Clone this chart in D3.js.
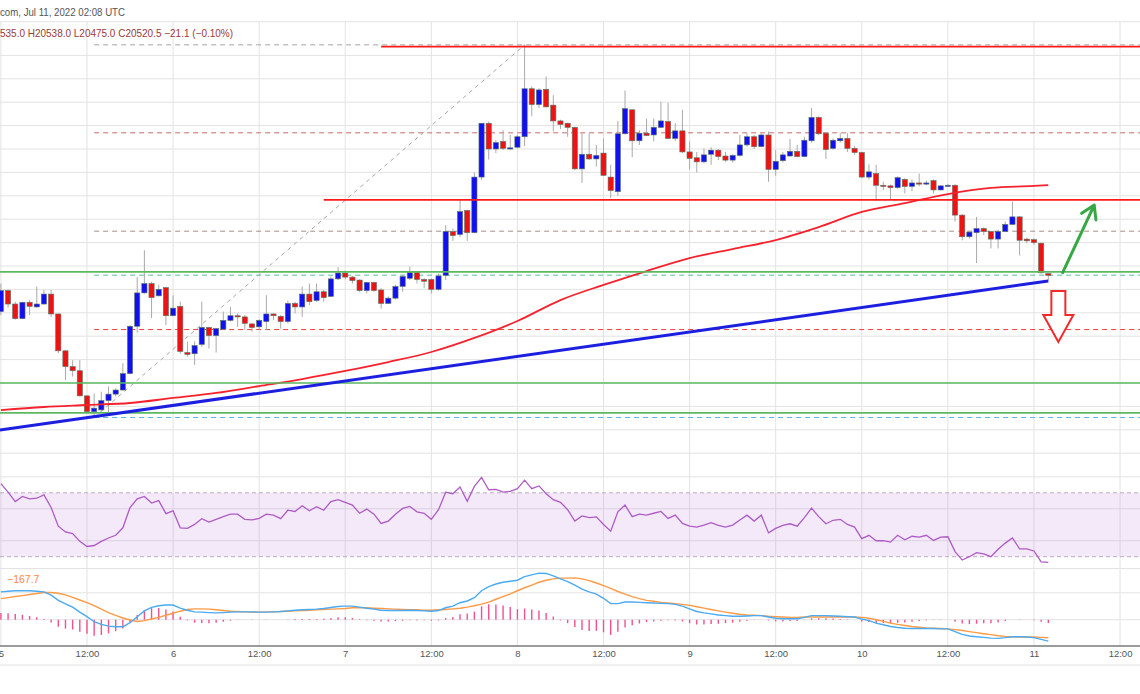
<!DOCTYPE html>
<html>
<head>
<meta charset="utf-8">
<script src="https://cdnjs.cloudflare.com/ajax/libs/d3/7.8.5/d3.min.js"></script>
<style>
html, body { margin: 0; padding: 0; background: #fff; overflow: hidden; }
svg { display: block; font-family: "Liberation Sans", Arial, sans-serif; }
</style>
</head>
<body>
<svg width="1140" height="694"></svg>
<script>
// BTC/USD hourly candles, Jul 5 00:00 UTC -> Jul 11 02:00 UTC
const opens = [20210,20390,20275,20150,20290,20250,20275,20360,20190,19875,
  19740,19705,19490,19355,19370,19450,19505,19540,19680,20085,
  20370,20450,20345,20415,20175,20255,19860,19850,19930,20075,
  20005,20060,20135,20175,20165,20105,20080,20125,20190,20170,
  20125,20280,20250,20360,20305,20380,20340,20490,20540,20505,
  20480,20390,20460,20395,20280,20325,20425,20495,20545,20485,
  20485,20400,20520,20895,20870,21075,20885,21360,21820,21600,
  21665,21605,21615,21705,22115,21980,22110,21975,21840,21820,
  21785,21430,21555,21515,21565,21360,21235,21730,21935,21670,
  21735,21720,21785,21835,21690,21755,21575,21525,21490,21555,
  21590,21540,21505,21545,21635,21705,21620,21720,21425,21500,
  21540,21580,21535,21670,21870,21735,21605,21670,21690,21605,
  21570,21360,21390,21290,21285,21270,21340,21280,21310,21300,
  21330,21250,21285,21290,21035,20850,20885,20920,20895,20830,
  20895,20955,21020,20830,20825,20795,20535];
const highs = [20450,20400,20295,20295,20310,20425,20395,20395,20195,19880,
  19795,19795,19495,19510,19525,19570,19555,19770,20095,20505,
  20735,20465,20440,20420,20350,20295,19955,19955,20295,20080,
  20070,20210,20250,20195,20180,20110,20145,20350,20195,20180,
  20305,20295,20425,20450,20450,20395,20510,20590,20560,20515,
  20485,20465,20465,20410,20340,20440,20525,20595,20555,20495,
  20495,20535,20950,20920,21165,21080,21400,21820,21835,21675,
  21760,21720,21720,22490,22135,22120,22220,22060,21850,21825,
  21790,21735,21735,21635,21690,21465,21840,22100,21940,21760,
  21860,21860,22005,21995,21820,21935,21665,21575,21605,21615,
  21600,21575,21555,21720,21735,21720,21735,21750,21590,21575,
  21685,21635,21705,21950,21880,21740,21690,21735,21735,21625,
  21575,21470,21465,21320,21295,21365,21350,21340,21390,21330,
  21340,21290,21300,21300,21045,20890,21020,20930,20900,20910,
  20980,21150,21025,20840,20835,20800,20538];
const lows = [20180,20245,20140,20145,20180,20245,20270,20165,19855,19625,
  19655,19485,19340,19312,19355,19350,19485,19535,19675,20030,
  20365,20155,20340,20095,20170,19850,19825,19755,19910,19895,
  19860,20055,20125,20080,20055,20040,20055,20055,20140,20065,
  20110,20195,20165,20265,20295,20295,20335,20480,20485,20450,
  20380,20365,20380,20235,20275,20315,20380,20480,20450,20410,
  20365,20390,20480,20815,20850,20815,20880,21335,21510,21565,
  21590,21595,21605,21625,21880,21950,21955,21750,21770,21705,
  21420,21310,21505,21450,21370,21180,21200,21725,21530,21635,
  21715,21665,21780,21690,21670,21565,21425,21400,21480,21465,
  21505,21490,21485,21535,21620,21600,21615,21320,21370,21485,
  21535,21530,21530,21655,21720,21515,21595,21655,21575,21550,
  21350,21340,21165,21250,21165,21260,21220,21240,21280,21290,
  21220,21245,21280,20980,20820,20835,20625,20865,20750,20750,
  20890,20950,20690,20795,20780,20535,20475];
const closes = [20390,20275,20150,20290,20255,20275,20360,20190,19875,19740,
  19705,19490,19355,19385,19450,19505,19540,19680,20085,20370,
  20450,20330,20400,20175,20240,19870,19845,19920,20075,20005,
  20065,20135,20175,20165,20110,20075,20135,20190,20175,20125,
  20280,20250,20360,20295,20380,20330,20490,20540,20505,20475,
  20390,20460,20390,20280,20325,20425,20510,20545,20485,20470,
  20400,20515,20895,20860,21065,20885,21360,21820,21600,21655,
  21605,21610,21705,22115,21980,22105,21960,21840,21810,21785,
  21430,21555,21515,21545,21375,21245,21730,21945,21670,21735,
  21715,21785,21840,21690,21755,21575,21520,21490,21550,21590,
  21535,21505,21545,21635,21705,21620,21720,21425,21495,21550,
  21580,21535,21675,21870,21730,21595,21675,21690,21605,21570,
  21360,21405,21290,21280,21270,21355,21280,21310,21300,21310,
  21250,21285,21290,21035,20850,20890,20920,20895,20830,20895,
  20955,21020,20820,20815,20800,20541.6,20520.5];

// 100 MA read every 6 hours
const maHours = [0,6,12,18,24,30,36,42,48,54,60,66,72,78,84,90,96,102,108,114,120,126,132,138,144,146];
const maValues = [19369,19395,19412,19429,19472,19515,19574,19634,19703,19779,19865,19985,20130,20309,
  20438,20557,20668,20745,20822,20933,21062,21138,21215,21267,21284,21292];

// RSI(14)
const rsi = [75.7,70.4,64.5,67.7,66.2,66.6,68.7,60.8,49.1,45.5,
  44.5,39.6,36.4,37.0,39.6,41.7,43.4,48.1,60.8,66.2,
  67.7,63.6,65.1,57.0,58.7,48.1,47.7,50.2,53.8,51.7,
  53.4,55.1,56.6,56.6,53.4,53.0,54.0,56.6,56.0,53.8,
  59.1,58.3,61.9,58.7,61.3,59.1,64.5,65.7,64.0,62.3,
  57.2,59.8,56.6,50.8,52.3,56.6,60.2,61.5,58.1,57.2,
  53.4,59.4,70.4,69.4,73.6,64.7,74.0,79.6,71.9,72.1,
  70.4,70.9,72.6,77.9,72.6,74.3,69.4,65.7,64.0,59.4,
  52.3,55.5,54.5,54.9,50.2,46.0,58.1,62.3,55.1,56.6,
  56.0,57.2,58.3,54.0,56.0,50.8,49.1,48.5,49.8,51.3,
  49.6,48.5,49.8,53.0,56.0,52.3,56.0,44.9,47.7,49.6,
  50.6,49.1,54.5,60.4,55.1,50.6,52.8,53.4,50.2,48.5,
  41.3,43.4,40.0,40.0,39.1,43.4,40.6,42.8,42.3,43.4,
  40.2,42.3,42.5,33.2,27.9,30.0,32.5,31.7,30.0,34.7,
  38.5,41.7,34.9,34.9,33.6,26.8,26.4];

// MACD(12,26,9)
const macd = [259,265,269,269,269,265,259,228,180,148,
  117,70,28,-19,-44,-60,-66,-66,-28,28,
  82,114,130,136,136,107,88,73,70,66,
  63,66,70,73,73,73,70,70,73,76,
  82,88,92,95,98,104,114,123,126,126,
  117,107,98,88,85,85,85,88,85,82,
  79,85,111,126,158,174,205,269,307,332,
  348,357,367,401,417,433,430,408,379,354,
  322,284,259,237,199,149,149,164,164,161,
  158,155,152,149,142,126,101,76,63,54,
  44,38,32,32,35,38,38,25,13,9,
  9,9,22,38,38,38,35,32,28,25,
  6,-9,-32,-47,-63,-73,-79,-82,-82,-82,
  -82,-85,-85,-111,-136,-152,-158,-164,-171,-174,
  -167,-158,-158,-161,-167,-183,-199];
const signal = [196,205,215,224,234,243,253,253,246,231,
  208,183,158,130,98,66,41,16,-3,-16,
  -9,6,22,41,60,79,95,101,101,98,
  92,85,79,76,73,70,70,73,73,76,
  79,82,85,88,92,95,98,101,104,111,
  111,111,107,104,101,98,95,92,92,88,
  88,92,95,101,107,117,130,145,164,190,
  215,240,269,297,322,348,367,379,386,386,
  389,379,363,341,316,291,262,237,215,196,
  180,171,161,155,149,142,133,120,107,95,
  82,70,60,51,44,41,38,32,28,25,
  22,22,25,25,25,25,25,25,25,25,
  22,13,0,-16,-32,-44,-54,-63,-70,-76,
  -79,-82,-85,-92,-101,-111,-120,-130,-139,-149,
  -155,-158,-161,-161,-161,-164,-167.7];

// drawings
const fibRatios = [0, 0.236, 0.5, 0.618, 0.764, 1];
const fibColors = ["#a3a3a3", "#c96a6a", "#a98c8c", "#4fc1a3", "#f23b3b", "#5ab4e5"];
const fibLow = 19305, fibHigh = 22490, fibFrom = 13, fibTo = 73;
const redLines = [{ price: 22475, from: 53 }, { price: 21165, from: 45 }];
const greenLines = [20550, 19600, 19345];
const trendLine = [[0, 19198], [146, 20472]];
const upArrow = [[148, 20543], [152.4, 21121]];
const downArrow = { hour: 147.4, top: 20386, neck: 20181, tip: 19950 };

const W = 1140;
const t0 = Date.UTC(2022, 6, 5, 0);
const HOUR = 3600e3;
const dt = i => new Date(t0 + i * HOUR);

const x = d3.scaleUtc().domain([dt(0), dt(156)]).range([0.9, 0.9 + 7.174 * 156]);
const xi = i => x(dt(i));
const y = d3.scaleLinear().domain([19000, 22600]).range([453.2, 32]);
const yRsi = d3.scaleLinear().domain([30, 70]).range([556.7, 492.8]);
const yMacd = d3.scaleLinear().domain([0, 250]).range([619.7, 592.8]);

const svg = d3.select("svg");
const grid = svg.append("g").attr("stroke", "#e3e3e3").attr("stroke-width", 1);

// vertical grid
x.ticks(d3.utcHour.every(12)).forEach(d => {
  grid.append("line").attr("x1", x(d)).attr("x2", x(d)).attr("y1", 21.7).attr("y2", 646);
});
// horizontal grid
d3.range(19000, 22401, 200).forEach(p => {
  grid.append("line").attr("x1", 0).attr("x2", W).attr("y1", y(p)).attr("y2", y(p));
});
[80, 60, 40].forEach(r => {
  grid.append("line").attr("x1", 0).attr("x2", W).attr("y1", yRsi(r)).attr("y2", yRsi(r));
});
[250, 0].forEach(v => {
  grid.append("line").attr("x1", 0).attr("x2", W).attr("y1", yMacd(v)).attr("y2", yMacd(v));
});
grid.append("line").attr("x1", 0).attr("x2", W).attr("y1", 21.7).attr("y2", 21.7);
grid.append("line").attr("x1", 0).attr("x2", W).attr("y1", 568.5).attr("y2", 568.5);

// fib retracement
const fib = svg.append("g");
fibRatios.forEach((r, k) => {
  const p = fibHigh - r * (fibHigh - fibLow);
  fib.append("line")
    .attr("x1", xi(fibFrom)).attr("x2", W)
    .attr("y1", y(p)).attr("y2", y(p))
    .attr("stroke", fibColors[k]).attr("stroke-width", 1)
    .attr("stroke-dasharray", "5,4");
});
fib.append("line")
  .attr("x1", xi(fibFrom)).attr("y1", y(fibLow))
  .attr("x2", xi(fibTo)).attr("y2", y(fibHigh))
  .attr("stroke", "#a8a8a8").attr("stroke-width", 1)
  .attr("stroke-dasharray", "4,4");

// candles
const candles = opens.map((o, i) => ({ i, o, h: highs[i], l: lows[i], c: closes[i] }));
const cg = svg.append("g");
cg.selectAll(".wick")
  .data(candles)
  .enter().append("line")
  .attr("x1", d => xi(d.i)).attr("x2", d => xi(d.i))
  .attr("y1", d => y(d.h)).attr("y2", d => y(d.l))
  .attr("stroke", "#a9a9a9").attr("stroke-width", 1);
cg.selectAll(".body")
  .data(candles)
  .enter().append("rect")
  .attr("x", d => xi(d.i) - 2.6)
  .attr("width", 5.2)
  .attr("y", d => y(Math.max(d.o, d.c)))
  .attr("height", d => Math.max(1.2, Math.abs(y(d.o) - y(d.c))))
  .attr("fill", d => d.c >= d.o ? "#1010f2" : "#f01212")
  .attr("stroke", "#5c7466").attr("stroke-width", 0.6);

// moving average
svg.append("path")
  .datum(maHours.map((h, k) => [h, maValues[k]]))
  .attr("fill", "none").attr("stroke", "#f5222d").attr("stroke-width", 1.8)
  .attr("d", d3.line().x(d => xi(d[0])).y(d => y(d[1])).curve(d3.curveMonotoneX));

// horizontal levels
greenLines.forEach(p => {
  svg.append("line").attr("x1", 0).attr("x2", W).attr("y1", y(p)).attr("y2", y(p))
    .attr("stroke", "#5cb860").attr("stroke-width", 1.6);
});
redLines.forEach(l => {
  svg.append("line").attr("x1", xi(l.from)).attr("x2", W).attr("y1", y(l.price)).attr("y2", y(l.price))
    .attr("stroke", "#ff1a1a").attr("stroke-width", 1.7);
});

// trend line
svg.append("line")
  .attr("x1", xi(trendLine[0][0]) - 1).attr("y1", y(trendLine[0][1]))
  .attr("x2", xi(trendLine[1][0])).attr("y2", y(trendLine[1][1]))
  .attr("stroke", "#1d1fe0").attr("stroke-width", 3);

// green up arrow
const ax1 = xi(upArrow[0][0]), ay1 = y(upArrow[0][1]);
const ax2 = xi(upArrow[1][0]), ay2 = y(upArrow[1][1]);
const ang = Math.atan2(ay2 - ay1, ax2 - ax1);
const headLen = 15;
svg.append("path")
  .attr("d", `M${ax1},${ay1}L${ax2},${ay2}` +
    `M${ax2 - headLen * Math.cos(ang - 0.55)},${ay2 - headLen * Math.sin(ang - 0.55)}L${ax2},${ay2}` +
    `L${ax2 - headLen * Math.cos(ang + 0.55)},${ay2 - headLen * Math.sin(ang + 0.55)}`)
  .attr("fill", "none").attr("stroke", "#36a843").attr("stroke-width", 3)
  .attr("stroke-linecap", "round").attr("stroke-linejoin", "round");

// red down arrow
const dx = xi(downArrow.hour), dTop = y(downArrow.top), dNeck = y(downArrow.neck), dTip = y(downArrow.tip);
svg.append("path")
  .attr("d", `M${dx - 7},${dTop}H${dx + 7}V${dNeck}H${dx + 15}L${dx},${dTip}L${dx - 15},${dNeck}H${dx - 7}Z`)
  .attr("fill", "#fff").attr("stroke", "#f22a2a").attr("stroke-width", 2)
  .attr("stroke-linejoin", "miter");

// RSI pane
svg.append("rect").attr("x", 0).attr("width", W)
  .attr("y", yRsi(70)).attr("height", yRsi(30) - yRsi(70))
  .attr("fill", "#b06cd8").attr("fill-opacity", 0.15);
[70, 30].forEach(r => {
  svg.append("line").attr("x1", 0).attr("x2", W).attr("y1", yRsi(r)).attr("y2", yRsi(r))
    .attr("stroke", "#b8aebf").attr("stroke-width", 1).attr("stroke-dasharray", "4,3");
});
svg.append("path")
  .datum(rsi)
  .attr("fill", "none").attr("stroke", "#ae5bc5").attr("stroke-width", 1.3)
  .attr("d", d3.line().x((d, i) => xi(i)).y(d => yRsi(d)));

// MACD pane
svg.append("g").selectAll("line")
  .data(macd.map((m, i) => ({ i, v: m - signal[i] })))
  .enter().append("line")
  .attr("x1", d => xi(d.i)).attr("x2", d => xi(d.i))
  .attr("y1", yMacd(0)).attr("y2", d => yMacd(d.v))
  .attr("stroke", "#f2508e").attr("stroke-width", 1.4);
svg.append("path")
  .datum(signal)
  .attr("fill", "none").attr("stroke", "#ff9a45").attr("stroke-width", 1.4)
  .attr("d", d3.line().x((d, i) => xi(i)).y(d => yMacd(d)));
svg.append("path")
  .datum(macd)
  .attr("fill", "none").attr("stroke", "#4aaaf2").attr("stroke-width", 1.4)
  .attr("d", d3.line().x((d, i) => xi(i)).y(d => yMacd(d)));
svg.append("text")
  .attr("x", 7).attr("y", 583)
  .attr("fill", "#ff8a3d").attr("font-size", 10.5)
  .text("\u2212" + Math.abs(signal[signal.length - 1]).toFixed(1));

// time axis
svg.append("line").attr("x1", 0).attr("x2", W).attr("y1", 646).attr("y2", 646)
  .attr("stroke", "#7a7a7a").attr("stroke-width", 1.5);
svg.append("line").attr("x1", 0).attr("x2", W).attr("y1", 665).attr("y2", 665)
  .attr("stroke", "#ececec").attr("stroke-width", 1.5);
const xAxis = d3.axisBottom(x)
  .ticks(d3.utcHour.every(12))
  .tickSize(0).tickPadding(4)
  .tickFormat(d => d.getUTCHours() ? "12:00" : String(d.getUTCDate()));
const axg = svg.append("g").attr("transform", "translate(0,646)").call(xAxis);
axg.select(".domain").remove();
axg.selectAll("text").attr("fill", "#555").attr("font-size", 9.5)
  .attr("font-family", "'Liberation Sans', Arial, sans-serif");

// header
const last = candles[candles.length - 1];
const prevClose = closes[closes.length - 2];
const change = last.c - prevClose;
svg.append("text").attr("x", 0).attr("y", 16)
  .attr("fill", "#555").attr("font-size", 11)
  .attr("textLength", 125).attr("lengthAdjust", "spacingAndGlyphs")
  .text("com, Jul 11, 2022 02:08 UTC");
svg.append("text").attr("x", 0).attr("y", 37)
  .attr("fill", "#9a3a3a").attr("font-size", 10.5)
  .attr("textLength", 233).attr("lengthAdjust", "spacingAndGlyphs")
  .text(`${String(last.o.toFixed(1)).slice(2)}  H${last.h.toFixed(1)}  L${last.l.toFixed(1)}  C${last.c.toFixed(1)}  \u2212${Math.abs(change).toFixed(1)} (\u2212${Math.abs(change / prevClose * 100).toFixed(2)}%)`);
</script>
</body>
</html>
